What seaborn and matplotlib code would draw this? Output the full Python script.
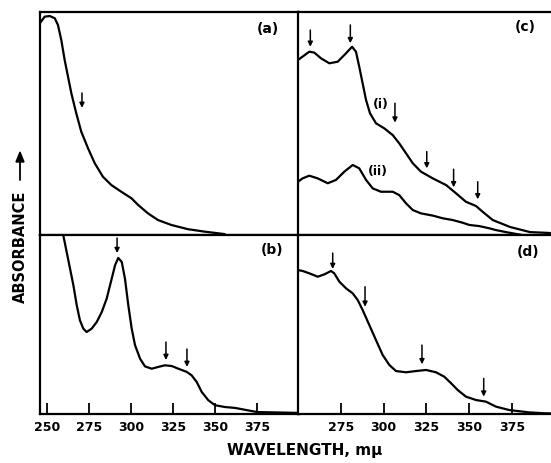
import numpy as np
import pandas as pd
import seaborn as sns
import matplotlib.pyplot as plt

# spectra (absorbance in arbitrary units, 0-1 per panel)
wl_a = [245.7, 248.6, 251.6, 254.6, 256.5, 258.5, 260.5, 262.5, 264.5, 267.4,
        270.4, 274.4, 278.4, 283.3, 288.3, 294.2, 300.2, 304.2, 310.1, 316.1,
        324.0, 333.9, 343.9, 355.8]
abs_a = [0.949, 0.979, 0.982, 0.972, 0.942, 0.874, 0.785, 0.710, 0.635, 0.546,
         0.463, 0.389, 0.322, 0.261, 0.224, 0.194, 0.165, 0.135, 0.097, 0.067,
         0.045, 0.026, 0.015, 0.004]

wl_b = [257.7, 259.7, 261.7, 263.7, 265.7, 267.7, 269.6, 271.6, 273.6, 276.6,
        279.6, 282.6, 285.5, 288.5, 290.5, 292.4, 294.5, 296.4, 298.4, 300.4,
        302.4, 305.4, 308.3, 312.3, 316.2, 320.2, 324.2, 328.2, 333.2, 336.1,
        339.1, 342.1, 346.0, 350.0, 355.9, 361.9, 375.0, 400.0]
abs_b = [1.09, 0.998, 0.905, 0.812, 0.719, 0.607, 0.523, 0.477, 0.458, 0.477,
         0.514, 0.570, 0.644, 0.756, 0.831, 0.872, 0.849, 0.756, 0.607, 0.477,
         0.384, 0.309, 0.266, 0.253, 0.263, 0.272, 0.268, 0.253, 0.235, 0.216,
         0.179, 0.123, 0.077, 0.049, 0.039, 0.034, 0.011, 0.006]

wl_c1 = [250.0, 252.7, 256.6, 259.5, 263.5, 268.3, 273.2, 278.1, 281.6, 283.9,
         285.8, 287.8, 289.8, 292.1, 295.6, 300.5, 305.4, 309.2, 313.2, 317.1,
         321.9, 328.8, 336.6, 342.4, 348.2, 354.1, 358.0, 363.9, 374.0, 385.7, 397.4]
abs_c1 = [0.785, 0.800, 0.822, 0.818, 0.792, 0.770, 0.777, 0.815, 0.844, 0.822,
          0.755, 0.680, 0.605, 0.546, 0.501, 0.478, 0.448, 0.411, 0.366, 0.322,
          0.284, 0.254, 0.224, 0.187, 0.149, 0.130, 0.104, 0.067, 0.036, 0.013, 0.009]

wl_c2 = [250.0, 252.7, 256.6, 261.5, 267.4, 272.2, 277.1, 282.0, 285.8, 289.8,
         293.7, 298.5, 305.4, 309.2, 313.2, 317.1, 321.9, 328.8, 334.6, 340.5,
         346.3, 350.2, 356.0, 361.9, 365.8, 372.3, 381.0]
abs_c2 = [0.239, 0.254, 0.266, 0.254, 0.232, 0.247, 0.284, 0.314, 0.299, 0.247,
          0.209, 0.194, 0.194, 0.179, 0.142, 0.112, 0.097, 0.087, 0.075, 0.067,
          0.055, 0.045, 0.040, 0.030, 0.022, 0.012, 0.0]

wl_d = [250.0, 252.7, 256.6, 261.5, 265.4, 269.3, 271.2, 274.2, 278.1, 282.0,
        284.9, 287.8, 291.7, 295.6, 299.5, 303.4, 307.3, 313.2, 319.0, 324.9,
        330.7, 335.6, 339.5, 343.4, 348.2, 354.1, 359.9, 365.8, 373.6, 385.3, 394.1, 400.0]
abs_d = [0.804, 0.799, 0.786, 0.767, 0.780, 0.799, 0.786, 0.739, 0.702, 0.674,
         0.637, 0.581, 0.497, 0.413, 0.330, 0.274, 0.240, 0.233, 0.240, 0.246,
         0.233, 0.208, 0.172, 0.134, 0.097, 0.078, 0.069, 0.041, 0.022, 0.009, 0.004, 0.003]

# marker arrows: (wavelength, tail, tip)
arrows_a = [(270.8, 0.637, 0.570)]
arrows_b = [(291.7, 0.983, 0.899), (320.8, 0.402, 0.302), (333.3, 0.363, 0.263)]
arrows_c = [(257.2, 0.919, 0.844), (280.6, 0.942, 0.860), (306.7, 0.591, 0.504),
            (325.3, 0.374, 0.299), (341.0, 0.295, 0.214), (355.1, 0.239, 0.160)]
arrows_d = [(270.3, 0.899, 0.810), (289.2, 0.711, 0.599), (322.5, 0.385, 0.278),
            (358.6, 0.199, 0.097)]

ticks_left = [250, 275, 300, 325, 350, 375]
ticks_right = [250, 275, 300, 325, 350, 375]

sns.set_style("white")
plt.rcParams['font.family'] = ['DejaVu Sans']
plt.rcParams['font.weight'] = 'bold'
plt.rcParams['text.color'] = 'black'
plt.rcParams['xtick.color'] = 'black'

W, H = 551, 463
fig = plt.figure(figsize=(W / 100, H / 100), dpi=100)

def px_axes(x0, y0, x1, y1):
    return fig.add_axes([x0 / W, 1 - y1 / H, (x1 - x0) / W, (y1 - y0) / H])

ax_a = px_axes(40.3, 12, 299, 235)
ax_b = px_axes(40.3, 235, 299, 414)
ax_c = px_axes(298, 12, 554.5, 235)
ax_d = px_axes(298, 235, 554.5, 414)

panels = [
    (ax_a, [(wl_a, abs_a)], arrows_a, '(a)', (0.88, 0.924), (246, 400)),
    (ax_b, [(wl_b, abs_b)], arrows_b, '(b)', (0.896, 0.916), (246, 400)),
    (ax_c, [(wl_c1, abs_c1), (wl_c2, abs_c2)], arrows_c, '(c)', (0.887, 0.933), (250, 400)),
    (ax_d, [(wl_d, abs_d)], arrows_d, '(d)', (0.895, 0.905), (250, 400)),
]

for ax, curves, arrs, lab, lpos, xlim in panels:
    for wl, ab in curves:
        df = pd.DataFrame({'wl': wl, 'abs': ab})
        sns.lineplot(data=df, x='wl', y='abs', ax=ax, color='black', lw=1.6,
                     estimator=None, sort=False)
    for x, tail, tip in arrs:
        ax.annotate('', xy=(x, tip), xytext=(x, tail),
                    arrowprops=dict(arrowstyle='-|>', color='black', lw=1.1,
                                    mutation_scale=7, shrinkA=0, shrinkB=0))
    ax.text(lpos[0], lpos[1], lab, transform=ax.transAxes, ha='center', va='center',
            fontsize=10, fontweight='bold')
    ax.set_xlim(*xlim)
    ax.set_ylim(0, 1)
    ax.set_xlabel('')
    ax.set_ylabel('')
    ax.set_yticks([])
    for s in ax.spines.values():
        s.set_color('black')
        s.set_linewidth(1.6)

ax_a.set_xticks([])
ax_c.set_xticks([])
ax_b.set_xticks(ticks_left)
ax_d.set_xticks(ticks_right)
ax_d.set_xticklabels([''] + [str(t) for t in ticks_right[1:]])
for ax in (ax_b, ax_d):
    ax.tick_params(axis='x', direction='in', length=8, width=1.3, labelsize=9,
                   pad=5, colors='black', bottom=True)
    for t in ax.get_xticklabels():
        t.set_fontweight('bold')

ax_c.text(298.5, 0.583, '(i)', ha='center', va='center', fontsize=9, fontweight='bold')
ax_c.text(296.6, 0.284, '(ii)', ha='center', va='center', fontsize=9, fontweight='bold')

fig.text(305 / W, 1 - 450 / H, 'WAVELENGTH, m\u03bc', ha='center', va='center',
         fontsize=11, fontweight='bold')
fig.text(20 / W, 1 - 247 / H, 'ABSORBANCE', ha='center', va='center', rotation=90,
         fontsize=10.5, fontweight='bold')
fig.add_artist(plt.Line2D([20 / W, 20 / W], [1 - 180 / H, 1 - 160 / H], color='black',
                          lw=1.3, transform=fig.transFigure))
fig.patches.append(plt.Polygon([[16 / W, 1 - 162 / H], [24 / W, 1 - 162 / H],
                                [20 / W, 1 - 152 / H]], closed=True, color='black',
                               transform=fig.transFigure))

fig.savefig('out.png', dpi=100)
